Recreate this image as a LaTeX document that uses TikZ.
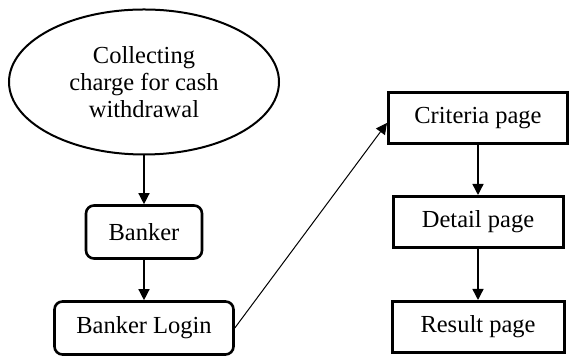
\documentclass[tikz,border=0pt]{standalone}
\usepackage{fontspec}
\setmainfont{Liberation Serif}
\usetikzlibrary{shapes.geometric,arrows.meta}
\begin{document}
\begin{tikzpicture}[x=0.5pt, y=-0.5pt, font=\fontsize{12.25}{13.4}\selectfont,
        oval/.style = {draw, ellipse, line width=1pt, minimum width=135pt, minimum height=72.5pt, inner sep=0pt, align=center},
        rbox/.style = {draw, rounded corners=4pt, line width=1.3pt, minimum height=26.5pt, inner sep=0pt},
        pbox/.style = {draw, line width=1.5pt, minimum height=25.5pt, inner sep=0pt},
        link/.style = {line width=0.7pt, -{Triangle[length=5.5pt,width=5.5pt]}}]
    \useasboundingbox (0,0) rectangle (569,356);
    \node[oval] (charge) at (144,82) {Collecting\\charge for cash\\withdrawal};
    \node[rbox, minimum width=58pt] (banker) at (144,232) {Banker};
    \node[rbox, minimum width=89.5pt] (login) at (144,328) {Banker Login};
    \node[pbox, minimum width=89.5pt] (criteria) at (478,118) {Criteria page};
    \node[pbox, minimum width=85pt] (detail) at (478,222) {Detail page};
    \node[pbox, minimum width=86pt] (result) at (478,327) {Result page};
    \draw[link] (charge) -- (banker);
    \draw[link] (banker) -- (login);
    \draw[link] (criteria) -- (detail);
    \draw[link] (detail) -- (result);
    \draw[link, line width=0.5pt] (login.east) -- ([yshift=-2.5pt]criteria.west);
\end{tikzpicture}
\end{document}
